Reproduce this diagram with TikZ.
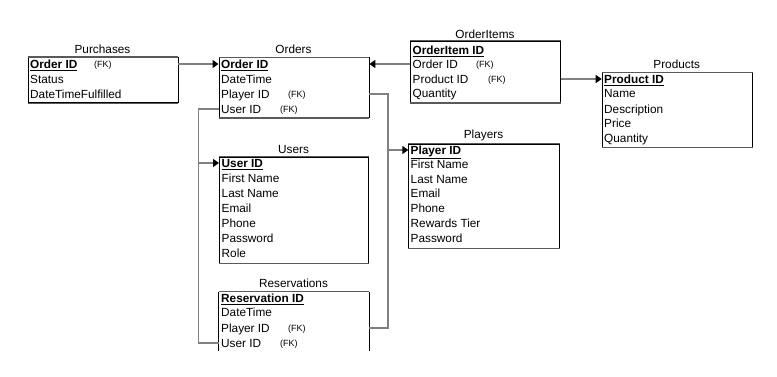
\documentclass[tikz,border=0pt]{standalone}
\usepackage{fontspec}
\setmainfont{Liberation Sans}
\usetikzlibrary{arrows.meta}
\definecolor{edgegray}{HTML}{5A5A5A}
\definecolor{linkgray}{HTML}{808080}
\tikzset{
  fld/.style={anchor=west, inner sep=0pt, text height=8.6pt, text depth=0pt,
    font=\fontsize{11.8}{13}\selectfont},
  keyfld/.style={fld, font=\fontsize{11.8}{13}\selectfont\bfseries},
  fk/.style={anchor=west, inner sep=0pt, text height=6.4pt, text depth=0pt,
    font=\fontsize{9}{10}\selectfont},
  ttl/.style={anchor=base, inner sep=0pt, font=\fontsize{11.8}{13}\selectfont},
  tbl/.style={draw=black, line width=0.9pt, inner sep=0pt, anchor=north west},
  rim/.style={draw=edgegray, line width=1.4pt},
  link/.style={draw=linkgray, line width=1.4pt},
  tip/.style={link, -{Triangle[length=6pt,width=8pt,color=black]}},
}
\begin{document}
\begin{tikzpicture}[x=1pt,y=-1pt]
\useasboundingbox (0,0) rectangle (777,377);

% ---- Purchases
\node[tbl, minimum width=150pt, minimum height=45.5pt] (pur) at (27.5,57) {};
\draw[rim] (pur.north west) -- (pur.north east);
\draw[rim] (pur.south west) -- (pur.south east);
\node[ttl] (pur-t) at (102.5,53.3) {Purchases};
\node[keyfld] (pur-oid) at (30,64) {\underline{Order ID}};
\node[fk] (pur-oid-fk) at (94,64) {(FK)};
\node[fld] (pur-st) at (30,79) {Status};
\node[fld] (pur-dtf) at (30,94) {DateTimeFulfilled};

% ---- Orders
\node[tbl, minimum width=150pt, minimum height=60pt] (ord) at (218.5,57.3) {};
\draw[rim] (ord.north west) -- (ord.north east);
\draw[rim] (ord.south west) -- (ord.south east);
\node[ttl] (ord-t) at (293.5,53.3) {Orders};
\node[keyfld] (ord-oid) at (221,64) {\underline{Order ID}};
\node[fld] (ord-dt) at (221,79) {DateTime};
\node[fld] (ord-pl) at (221,94) {Player ID};
\node[fk] (ord-pl-fk) at (288,94) {(FK)};
\node[fld] (ord-uid) at (221,109) {User ID};
\node[fk] (ord-uid-fk) at (280,109) {(FK)};

% ---- OrderItems
\node[tbl, minimum width=150pt, minimum height=61.6pt] (oi) at (410,40.7) {};
\draw[rim] (oi.north west) -- (oi.north east);
\draw[rim] (oi.south west) -- (oi.south east);
\node[ttl] (oi-t) at (485,38.5) {OrderItems};
\node[keyfld] (oi-id) at (412.5,50) {\underline{OrderItem ID}};
\node[fld] (oi-oid) at (412.5,64) {Order ID};
\node[fk] (oi-oid-fk) at (476,64) {(FK)};
\node[fld] (oi-pid) at (412.5,79) {Product ID};
\node[fk] (oi-pid-fk) at (488,79) {(FK)};
\node[fld] (oi-qty) at (412.5,93.5) {Quantity};

% ---- Products
\node[tbl, minimum width=150pt, minimum height=74.4pt] (prod) at (601.7,72.3) {};
\draw[rim] (prod.north west) -- (prod.north east);
\draw[rim] (prod.south west) -- (prod.south east);
\node[ttl] (prod-t) at (676.7,68.3) {Products};
\node[keyfld] (prod-id) at (604,79) {\underline{Product ID}};
\node[fld] (prod-nm) at (604,93.5) {Name};
\node[fld] (prod-ds) at (604,109) {Description};
\node[fld] (prod-pr) at (604,123.5) {Price};
\node[fld] (prod-qt) at (604,138.5) {Quantity};

% ---- Users
\node[tbl, minimum width=149pt, minimum height=106pt] (us) at (219,156.7) {};
\draw[rim] (us.north west) -- (us.north east);
\draw[rim] (us.south west) -- (us.south east);
\node[ttl] (us-t) at (293.5,154) {Users};
\node[keyfld] (us-id) at (221.5,163) {\underline{User ID}};
\node[fld] (us-fn) at (221.5,178.5) {First Name};
\node[fld] (us-ln) at (221.5,193.5) {Last Name};
\node[fld] (us-em) at (221.5,208.5) {Email};
\node[fld] (us-ph) at (221.5,223) {Phone};
\node[fld] (us-pw) at (221.5,238.5) {Password};
\node[fld] (us-rl) at (221.5,253.5) {Role};

% ---- Players
\node[tbl, minimum width=151pt, minimum height=104pt] (pl) at (408.3,143.7) {};
\draw[rim] (pl.north west) -- (pl.north east);
\draw[rim] (pl.south west) -- (pl.south east);
\node[ttl] (pl-t) at (483.5,138.8) {Players};
\node[keyfld] (pl-id) at (410.5,150) {\underline{Player ID}};
\node[fld] (pl-fn) at (410.5,164) {First Name};
\node[fld] (pl-ln) at (410.5,179) {Last Name};
\node[fld] (pl-em) at (410.5,193.5) {Email};
\node[fld] (pl-ph) at (410.5,208.5) {Phone};
\node[fld] (pl-rt) at (410.5,223.5) {Rewards Tier};
\node[fld] (pl-pw) at (410.5,238.5) {Password};

% ---- Reservations (open at the bottom)
\node[tbl, draw=none, minimum width=150pt, minimum height=58.3pt] (res) at (218.5,291.7) {};
\draw[black, line width=0.9pt] (res.south west) -- (res.north west);
\draw[black, line width=0.9pt] (res.north east) -- (res.south east);
\draw[rim] (res.north west) -- (res.north east);
\node[ttl] (res-t) at (293.5,287.3) {Reservations};
\node[keyfld] (res-id) at (221,298) {\underline{Reservation ID}};
\node[fld] (res-dt) at (221,312.5) {DateTime};
\node[fld] (res-pl) at (221,328) {Player ID};
\node[fk] (res-pl-fk) at (288,328) {(FK)};
\node[fld] (res-uid) at (221,343) {User ID};
\node[fk] (res-uid-fk) at (280,343) {(FK)};

% ---- relationships
\coordinate (busR) at (388,0);
\coordinate (busL) at (198.5,0);
\draw[tip] (pur.east |- pur-oid.west) -- (ord.west |- ord-oid.west);
\draw[tip] (oi.west |- oi-oid.west) -- (ord.east |- ord-oid.west);
\draw[tip] (oi.east |- oi-pid.west) -- (prod.west |- prod-id.west);
\draw[tip] (ord.east |- ord-pl.west) -| (busR |- pl-id.west) -- (pl.west |- pl-id.west);
\draw[link] (res.east |- res-pl.west) -| (busR |- pl-id.west);
\draw[tip] (ord.west |- ord-uid.west) -| (busL |- us-id.west) -- (us.west |- us-id.west);
\draw[link] (res.west |- res-uid.west) -| (busL |- us-id.west);
\end{tikzpicture}
\end{document}
